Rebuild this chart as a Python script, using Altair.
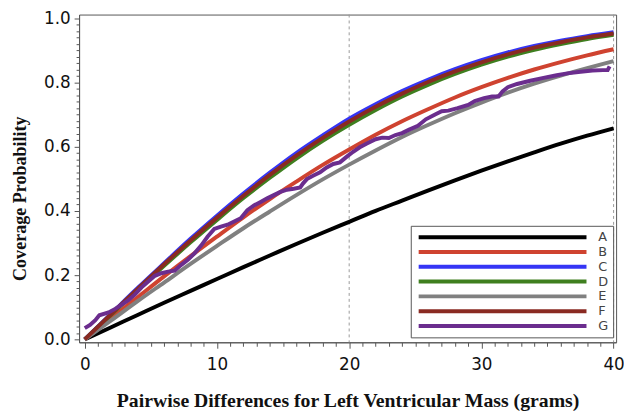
import altair as alt
import pandas as pd

# x positions (grams) for the smooth curves
d_grid = [0, 2, 4, 6, 8, 10, 12, 14, 16, 18, 20, 22, 24, 26, 28, 30, 32, 34, 36, 38, 40]

A = [0, 0.038, 0.076, 0.114, 0.151, 0.188, 0.225, 0.261, 0.297, 0.332, 0.366,
     0.400, 0.432, 0.464, 0.495, 0.525, 0.554, 0.582, 0.609, 0.634, 0.657]
B = [0, 0.066, 0.131, 0.196, 0.259, 0.320, 0.380, 0.437, 0.491, 0.543, 0.591,
     0.637, 0.679, 0.717, 0.753, 0.785, 0.814, 0.840, 0.863, 0.884, 0.903]
C = [0, 0.080, 0.160, 0.237, 0.313, 0.385, 0.454, 0.519, 0.580, 0.635, 0.687,
     0.732, 0.773, 0.809, 0.841, 0.869, 0.893, 0.913, 0.930, 0.944, 0.956]
D = [0, 0.077, 0.154, 0.229, 0.302, 0.372, 0.440, 0.503, 0.563, 0.618, 0.668,
     0.714, 0.756, 0.793, 0.826, 0.855, 0.880, 0.901, 0.919, 0.935, 0.948]
E = [0, 0.059, 0.119, 0.177, 0.235, 0.291, 0.346, 0.398, 0.449, 0.498, 0.544,
     0.588, 0.630, 0.668, 0.704, 0.737, 0.768, 0.796, 0.821, 0.844, 0.866]
F = [0, 0.079, 0.157, 0.234, 0.308, 0.379, 0.447, 0.512, 0.572, 0.627, 0.678,
     0.724, 0.765, 0.802, 0.834, 0.862, 0.887, 0.908, 0.925, 0.940, 0.952]

# empirical curve G
G_d = [0.0, 0.4, 0.8, 1.1, 1.8, 2.3, 2.8, 3.3, 3.8, 4.3, 4.8, 5.3, 5.8, 6.3, 6.8,
       7.3, 7.8, 8.3, 8.8, 9.3, 9.8, 10.3, 10.8, 11.3, 11.8, 12.3, 12.8, 13.3,
       13.8, 14.3, 14.8, 15.3, 15.8, 16.3, 16.5, 16.8, 17.3, 17.8, 18.3, 18.8,
       19.3, 19.8, 20.3, 20.8, 21.3, 22.0, 22.5, 23.0, 23.5, 24.0, 24.5, 25.2,
       25.8, 26.5, 27.0, 27.5, 28.2, 29.0, 29.5, 30.2, 30.8, 31.3, 31.6, 32.0,
       32.7, 33.7, 34.7, 35.7, 36.5, 37.5, 38.4, 39.2, 39.55, 39.7]
G_p = [0.035, 0.045, 0.060, 0.075, 0.084, 0.095, 0.108, 0.122, 0.140, 0.162,
       0.180, 0.198, 0.206, 0.211, 0.214, 0.232, 0.248, 0.268, 0.292, 0.320,
       0.344, 0.351, 0.357, 0.367, 0.377, 0.402, 0.417, 0.428, 0.439, 0.449,
       0.459, 0.466, 0.469, 0.473, 0.485, 0.499, 0.510, 0.520, 0.535, 0.546,
       0.551, 0.568, 0.584, 0.598, 0.609, 0.623, 0.628, 0.627, 0.636, 0.642,
       0.652, 0.665, 0.685, 0.700, 0.710, 0.712, 0.720, 0.730, 0.742, 0.751,
       0.756, 0.756, 0.772, 0.785, 0.795, 0.805, 0.814, 0.822, 0.828, 0.833,
       0.837, 0.838, 0.838, 0.850]

series_names = ["A", "B", "C", "D", "E", "F", "G"]
series_colors = ["#000000", "#CF4330", "#3535F5", "#3F7F1F", "#808080", "#8A2A22", "#6B2D8E"]
ref_lines = [20, 40]

x_ticks = list(range(0, 41))
y_ticks = [round(i * 0.02, 2) for i in range(51)]

rows = []
for i, (name, vals) in enumerate(zip(series_names[:6], [A, B, C, D, E, F])):
    for d, p in zip(d_grid, vals):
        rows.append({"d": d, "p": p, "series": name, "ord": i})
smooth_df = pd.DataFrame(rows)
g_df = pd.DataFrame({"d": G_d, "p": G_p, "series": "G"})
ref_df = pd.DataFrame({"d": ref_lines})

x_scale = alt.Scale(domain=[-0.43, 40.19], nice=False, zero=False)
y_scale = alt.Scale(domain=[-0.009, 1.011], nice=False, zero=False)
color_scale = alt.Scale(domain=series_names, range=series_colors)
legend = alt.Legend(title=None, labelExpr="datum.label + '\u00a0\u00a0\u00a0'")

x_axis = alt.Axis(
    title="Pairwise Differences for Left Ventricular Mass (grams)",
    values=x_ticks,
    labelExpr="datum.value % 10 === 0 ? datum.label : ''",
    tickSize={"condition": {"test": "datum.value % 10 === 0", "value": 6}, "value": 4},
    grid=False,
    labelPadding=9,
    titlePadding=18,
    titleFontSize=20,
)
y_axis = alt.Axis(
    title="Coverage Probability",
    values=y_ticks,
    format=".1f",
    labelExpr="abs(datum.value * 5 - round(datum.value * 5)) < 0.001 ? datum.label : ''",
    tickSize={"condition": {"test": "abs(datum.value * 5 - round(datum.value * 5)) < 0.001", "value": 5},
              "value": 3},
    grid=False,
    labelPadding=4,
    titlePadding=14,
    titleFontSize=18.3,
    titleY=186,
)

rules = alt.Chart(ref_df).mark_rule(color="#9a9a9a", strokeWidth=1, strokeDash=[3, 3]).encode(
    x=alt.X("d:Q", scale=x_scale, axis=x_axis)
)

smooth = alt.Chart(smooth_df).mark_line(strokeWidth=4, interpolate="monotone").encode(
    x=alt.X("d:Q", scale=x_scale, axis=x_axis),
    y=alt.Y("p:Q", scale=y_scale, axis=y_axis),
    color=alt.Color("series:N", scale=color_scale, legend=legend),
    order=alt.Order("ord:Q"),
)

emp = alt.Chart(g_df).mark_line(strokeWidth=4).encode(
    x=alt.X("d:Q", scale=x_scale, axis=x_axis),
    y=alt.Y("p:Q", scale=y_scale, axis=y_axis),
    color=alt.Color("series:N", scale=color_scale, legend=legend),
)

chart = alt.layer(rules, smooth, emp).properties(
    width=544,
    height=332,
    autosize=alt.AutoSizeParams(type="none"),
    padding={"left": 72, "top": 4, "right": 8, "bottom": 71},
).configure_view(
    stroke="#555555", strokeWidth=1
).configure_axis(
    domainColor="#555555",
    tickColor="#555555",
    labelFont="DejaVu Sans",
    labelFontSize=17,
    labelColor="#111111",
    titleFont="Liberation Serif",
    titleFontWeight="bold",
    titleColor="#111111",
).configure_legend(
    orient="none",
    legendX=336,
    legendY=214,
    symbolType="stroke",
    symbolSize=28900,
    symbolStrokeWidth=4,
    clipHeight=15,
    rowPadding=0,
    padding=4,
    symbolOffset=2,
    labelOffset=10,
    labelFont="DejaVu Sans",
    labelFontSize=13,
    labelColor="#444444",
    strokeColor="#555555",
    fillColor="#ffffff",
)

chart.save("out.html", embed_options={"renderer": "svg", "actions": False})
